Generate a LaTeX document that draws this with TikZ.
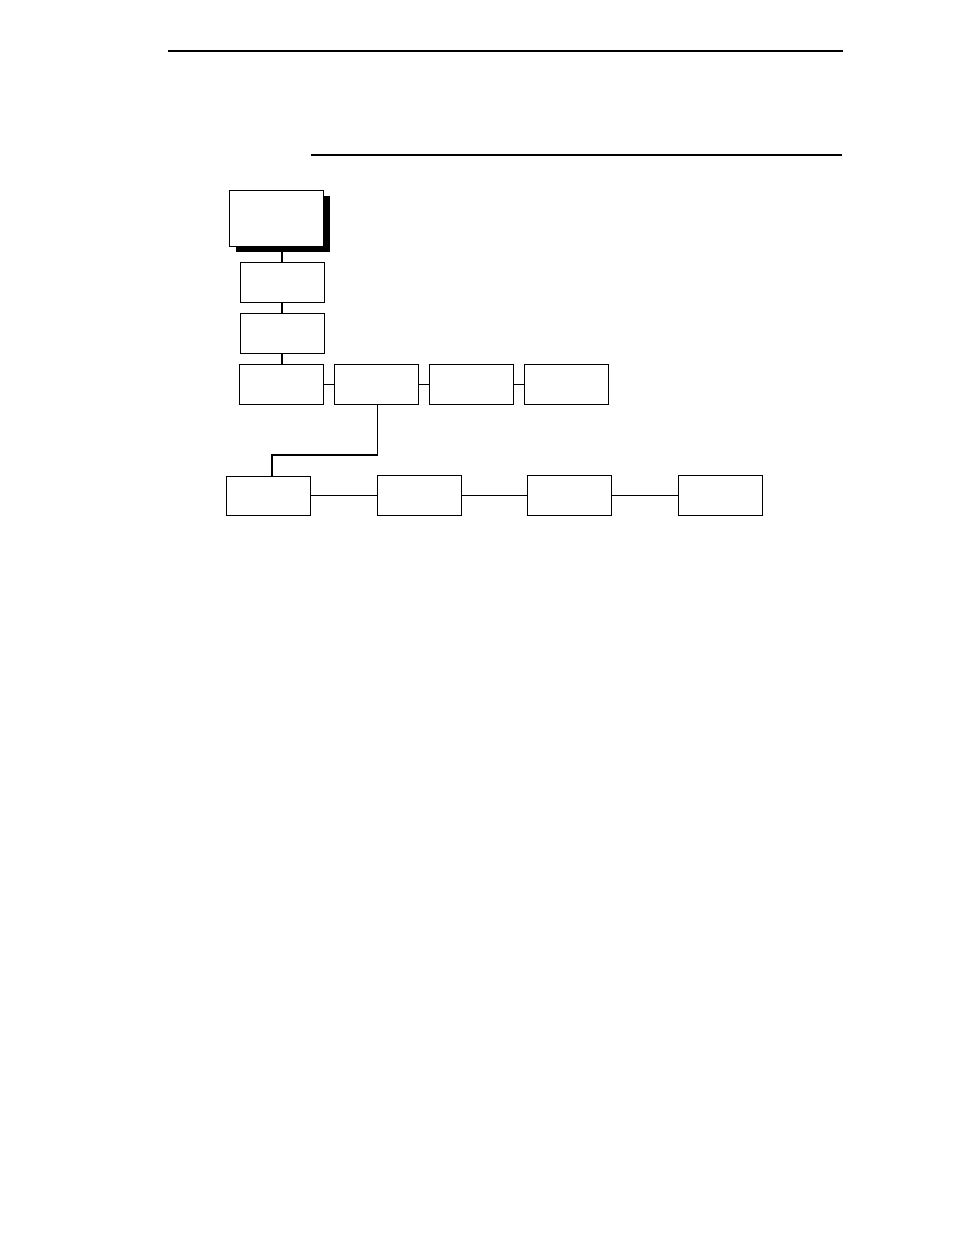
\documentclass[tikz,border=0pt]{standalone}
\usetikzlibrary{positioning}
\usetikzlibrary{shadows}
\tikzset{%
  mybox/.style={rectangle, draw=black, line width=1pt, fill=white,
    minimum width=84pt, minimum height=40pt, inner sep=0pt},
  myshadow/.style={drop shadow={shadow xshift=7pt, shadow yshift=-6pt,
    fill=black, opacity=1}},
  myedge/.style={line width=1.2pt}
}
\begin{document}
\begin{tikzpicture}[x=1pt,y=-1pt]
  \useasboundingbox (0,0) rectangle (954,1235);
  \coordinate (ruleA) at (168,51);
  \coordinate (ruleB) at (843,51);
  \coordinate (ruleC) at (311,155);
  \coordinate (ruleD) at (842,155);
  \draw [line width=2.8pt] (ruleA) -- (ruleB);
  \draw [line width=1.4pt] (ruleC) -- (ruleD);
  \node[mybox, myshadow, minimum width=94pt, minimum height=56pt] (menu) at (276,218) {};
  \node[mybox] (sub1) at (282,282.5) {};
  \node[mybox, below=10pt] (sub2) at (sub1.south) {};
  \node[mybox, below=10pt] (r1) at ([xshift=-1pt]sub2.south) {};
  \node[mybox, right=10pt] (r2) at (r1.east) {};
  \node[mybox, right=10pt] (r3) at (r2.east) {};
  \node[mybox, right=10pt] (r4) at (r3.east) {};
  \node[mybox, minimum height=39pt] (b1) at (268,495.5) {};
  \node[mybox, right=66pt] (b2) at (b1.east) {};
  \node[mybox, right=65pt] (b3) at (b2.east) {};
  \node[mybox, right=66pt] (b4) at (b3.east) {};
  \coordinate (drop) at (272,455);
  \draw [myedge] (menu.south -| sub1.north) -- (sub1.north);
  \draw [myedge] (sub1) -- (sub2);
  \draw [myedge] (sub2.south) -- (sub2.south |- r1.north);
  \draw [myedge] (r1) -- (r2);
  \draw [myedge] (r2) -- (r3);
  \draw [myedge] (r3) -- (r4);
  \draw [myedge] ([xshift=1.5pt]r2.south) |- (drop) -- (drop |- b1.north);
  \draw [myedge] (b1) -- (b2);
  \draw [myedge] (b2) -- (b3);
  \draw [myedge] (b3) -- (b4);
\end{tikzpicture}
\end{document}
